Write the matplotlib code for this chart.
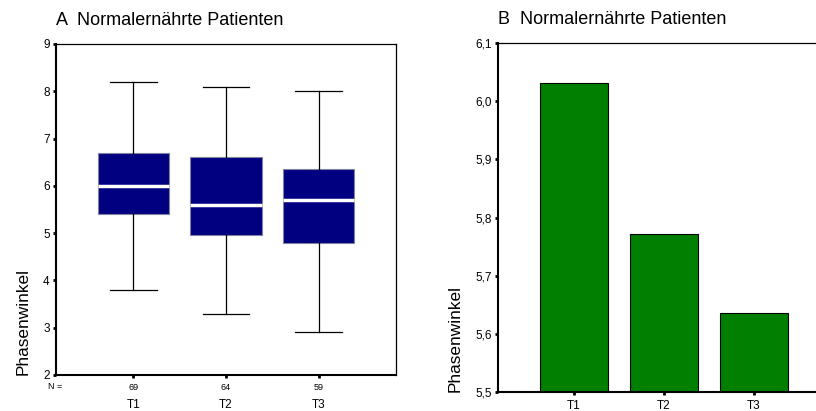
import matplotlib
matplotlib.use("Agg")
import matplotlib.pyplot as plt

plt.rcParams['font.family'] = ['Liberation Sans', 'DejaVu Sans']

# Daten
zeitpunkte = ["T1", "T2", "T3"]
n_werte = [69, 64, 59]
whisker_hoch = [8.2, 8.1, 8.0]
q3 = [6.7, 6.6, 6.35]
median = [6.0, 5.6, 5.7]
q1 = [5.4, 4.95, 4.8]
whisker_tief = [3.8, 3.3, 2.9]
mittelwerte = [6.032, 5.772, 5.635]

fig = plt.figure(figsize=(8.16, 4.11), dpi=100)

# A: Boxplot
ax1 = fig.add_axes([0.0686, 0.0876, 0.4167, 0.8054])
stats = []
for i in range(3):
    stats.append(dict(med=median[i], q1=q1[i], q3=q3[i],
                      whislo=whisker_tief[i], whishi=whisker_hoch[i], fliers=[]))
pos = [1, 2, 3]
ax1.bxp(stats, positions=pos, widths=0.77, patch_artist=True, showfliers=False,
        boxprops=dict(facecolor='#000080', edgecolor='#8080a0', linewidth=0.8),
        medianprops=dict(color='white', linewidth=2.5),
        whiskerprops=dict(color='black', linewidth=0.9),
        capprops=dict(color='black', linewidth=0.9), capwidths=0.5)
ax1.set_xlim(0.165, 3.835)
ax1.set_ylim(2, 9)
ax1.set_yticks(range(2, 10))
ax1.set_xticks(pos)
ax1.set_xticklabels([str(n) for n in n_werte], fontsize=6.5)
for x, t in zip(pos, zeitpunkte):
    ax1.text(x, -0.09, t, transform=ax1.get_xaxis_transform(),
             ha='center', va='center', fontsize=8.5)
ax1.text(0.018, -0.036, "N =", transform=ax1.transAxes, ha='right', va='center',
         fontsize=6.5)
ax1.set_title("A  Normalernährte Patienten", loc='left', fontsize=13, pad=14)
ax1.set_ylabel("Phasenwinkel", fontsize=12.4, loc='bottom', labelpad=9)

# B: Balken
ax2 = fig.add_axes([0.6103, 0.0462, 0.4069, 0.8492])
ax2.bar(pos, [m - 5.5 for m in mittelwerte], bottom=5.5, width=0.75,
        color='#007f00', edgecolor='black', linewidth=0.8)
ax2.set_xlim(0.156, 3.844)
ax2.set_ylim(5.5, 6.1)
ax2.set_yticks([5.5, 5.6, 5.7, 5.8, 5.9, 6.0, 6.1])
ax2.set_yticklabels(["5,5", "5,6", "5,7", "5,8", "5,9", "6,0", "6,1"])
ax2.set_xticks(pos)
ax2.set_xticklabels(zeitpunkte, fontsize=8.5)
ax2.set_title("B  Normalernährte Patienten", loc='left', fontsize=13, pad=14)
ax2.set_ylabel("Phasenwinkel", fontsize=12.4, loc='bottom', labelpad=9)

for ax in (ax1, ax2):
    ax.spines['left'].set_linewidth(1.5)
    ax.spines['bottom'].set_linewidth(1.5)
    ax.spines['top'].set_linewidth(0.9)
    ax.spines['right'].set_linewidth(0.9)
    ax.tick_params(axis='both', direction='out', length=2.5, width=2, pad=3)
    ax.tick_params(axis='y', labelsize=8.5, pad=2)

fig.savefig("out.png", dpi=100)
